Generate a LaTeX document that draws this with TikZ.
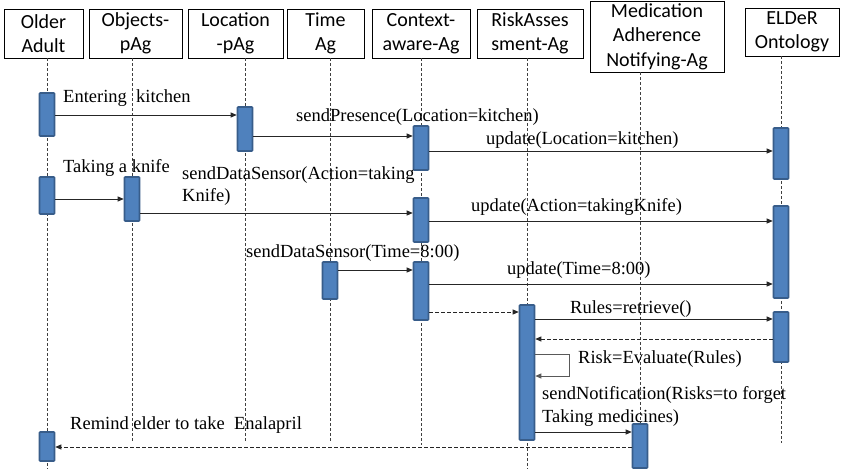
\documentclass[tikz,border=0pt]{standalone}
\usepackage{fontspec}
\setmainfont{Liberation Serif}
\newfontfamily\hdrfont{Carlito}
\usetikzlibrary{arrows.meta}
\definecolor{actfill}{RGB}{79,129,189}
\definecolor{actdraw}{RGB}{56,93,138}

\begin{document}
\begin{tikzpicture}[
    x=1pt, y=-1pt,
    actor/.style={
        rectangle, draw=black, line width=0.8pt, fill=white,
        minimum height=49pt, inner sep=0pt,
        align=center, font=\hdrfont\fontsize{20}{24.5}\selectfont
    },
    act/.style={
        rectangle, draw=actdraw, fill=actfill, line width=1.6pt,
        minimum width=15pt, inner sep=0pt, rounded corners=0.8pt
    },
    life/.style={draw=black!75, line width=0.7pt, dash pattern=on 3pt off 2pt},
    msg/.style={-{Triangle[length=6pt,width=5pt]}, line width=0.8pt, draw=black!85},
    reply/.style={msg, dash pattern=on 3.5pt off 2.5pt},
    lbl/.style={anchor=base west, inner sep=0pt, align=left,
        font=\fontsize{18.5}{21.5}\selectfont}
]
\useasboundingbox[fill=white] (0,0) rectangle (841,469);

% Participants
\node[actor, minimum width=79pt] (oa) at (43.5,33.5) {Older\\Adult};
\node[actor, minimum width=93pt] (obj) at (135.5,33.5) {Objects-\\pAg};
\node[actor, minimum width=95pt] (loc) at (235.5,33.5) {Location\\-pAg};
\node[actor, minimum width=77pt] (time) at (325.5,33.5) {Time\\Ag};
\node[actor, minimum width=98pt] (ctx) at (421,33.5) {Context-\\aware-Ag};
\node[actor, minimum width=106pt] (risk) at (530,33.5) {RiskAsses\\sment-Ag};
\node[actor, minimum width=134pt, minimum height=71pt] (med) at (657,36.5)
    {Medication\\Adherence\\Notifying-Ag};
\node[actor, minimum width=94pt, minimum height=48pt] (eld) at (792,32) {ELDeR\\Ontology};

% Lifelines
\draw[life] (47,0 |- oa.south) -- (47,469);
\draw[life] (132,0 |- obj.south) -- (132,443);
\draw[life] (245,0 |- loc.south) -- (245,443);
\draw[life] (330,0 |- time.south) -- (330,443);
\draw[life] (421,0 |- ctx.south) -- (421,445);
\draw[life] (527,0 |- risk.south) -- (527,469);
\draw[life] (640,0 |- med.south) -- (640,424);
\draw[life] (781,0 |- eld.south) -- (781,443);

% Activations
\node[act, minimum height=43pt] (oa1) at (47,114.5) {};
\node[act, minimum height=44pt] (loc1) at (245,129) {};
\node[act, minimum height=44pt] (ctx1) at (421,148) {};
\node[act, minimum height=51pt] (eld1) at (781,153.5) {};
\node[act, minimum height=37pt] (oa2) at (47,195.5) {};
\node[act, minimum height=44pt] (obj1) at (132,199) {};
\node[act, minimum height=44pt] (ctx2) at (421,220) {};
\node[act, minimum height=92pt] (eld2) at (781,252) {};
\node[act, minimum height=37pt] (time1) at (330,280.5) {};
\node[act, minimum height=58pt] (ctx3) at (421,291) {};
\node[act, minimum height=135pt] (risk1) at (527,372.5) {};
\node[act, minimum height=50pt] (eld3) at (781,337) {};
\node[act, minimum height=44pt] (med1) at (640,446) {};
\node[act, minimum height=29pt] (oa3) at (47,446.5) {};

% Messages
\draw[msg] (oa1.east |- 0,115) -- (loc1.west |- 0,115);
\draw[msg] (loc1.east |- 0,136) -- (ctx1.west |- 0,136);
\draw[msg] (ctx1.east |- 0,151) -- (eld1.west |- 0,151);
\draw[msg] (oa2.east |- 0,199) -- (obj1.west |- 0,199);
\draw[msg] (obj1.east |- 0,213) -- (ctx2.west |- 0,213);
\draw[msg] (ctx2.east |- 0,221) -- (eld2.west |- 0,221);
\draw[msg] (time1.east |- 0,270) -- (ctx3.west |- 0,270);
\draw[msg] (ctx3.east |- 0,284) -- (eld2.west |- 0,284);
\draw[reply] (ctx3.east |- 0,312) -- (risk1.west |- 0,312);
\draw[msg] (risk1.east |- 0,319) -- (eld3.west |- 0,319);
\draw[reply] (eld3.west |- 0,339) -- (risk1.east |- 0,339);
\draw[msg, draw=black!65] (risk1.east |- 0,354) -- ++(34,0) |- (risk1.east |- 0,376);
\draw[msg] (risk1.east |- 0,432) -- (med1.west |- 0,432);
\draw[reply] (med1.west |- 0,447) -- (oa3.east |- 0,447);

% Labels
\node[lbl] (l1) at (63,102) {Entering~~kitchen};
\node[lbl] (l2) at (296,121) {sendPresence(Location=kitchen)};
\node[lbl] (l3) at (486,144) {update(Location=kitchen)};
\node[lbl] (l4) at (63,172) {Taking a knife};
\node[lbl] (l5) at (182,201) {sendDataSensor(Action=taking\\Knife)};
\node[lbl] (l6) at (471,211) {update(Action=takingKnife)};
\node[lbl] (l7) at (246,257) {sendDataSensor(Time=8:00)};
\node[lbl] (l8) at (507,274) {update(Time=8:00)};
\node[lbl] (l9) at (570,313) {Rules=retrieve()};
\node[lbl] (l10) at (578,363) {Risk=Evaluate(Rules)};
\node[lbl, font=\fontsize{18.5}{23}\selectfont] (l11) at (542,422)
    {sendNotification(Risks=to forget\\Taking medicines)};
\node[lbl] (l12) at (70,429) {Remind elder to take~~Enalapril};

\end{tikzpicture}
\end{document}
